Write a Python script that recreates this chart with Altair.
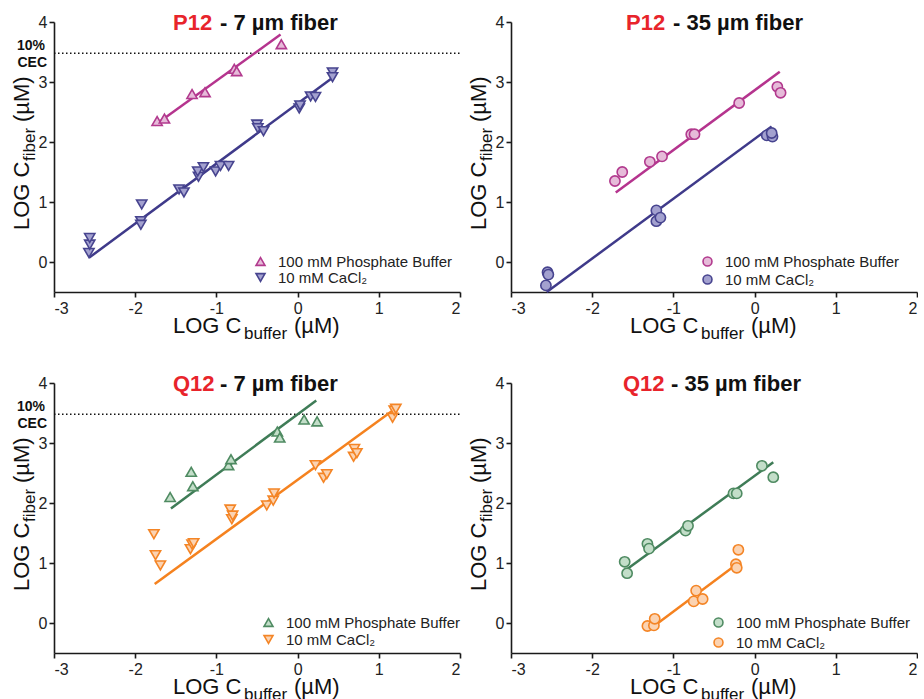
import altair as alt
import pandas as pd

FONT = "Liberation Sans"
SERIES = ["100 mM Phosphate Buffer", "10 mM CaCl₂"]
X_TICKS = [-3, -2, -1, 0, 1, 2]
Y_TICKS = [0, 1, 2, 3, 4]
X_DOMAIN = [-3, 2]
Y_DOMAIN = [-0.5, 4]
CEC_LEVEL = 3.48

# ---- P12 - 7 um fiber ----
p12_7_phos_x = [-1.73, -1.64, -1.30, -1.14, -0.78, -0.75, -0.20]
p12_7_phos_y = [2.35, 2.39, 2.80, 2.83, 3.22, 3.18, 3.63]
p12_7_ca_x = [-2.57, -2.56, -2.56, -1.93, -1.93, -1.92, -1.46, -1.40, -1.22, -1.23, -1.16,
              -1.01, -0.95, -0.85, -0.50, -0.49, -0.42, 0.02, 0.03, 0.16, 0.22, 0.43, 0.43]
p12_7_ca_y = [0.15, 0.29, 0.40, 0.68, 0.62, 0.96, 1.21, 1.16, 1.42, 1.51, 1.58,
              1.51, 1.60, 1.60, 2.29, 2.23, 2.18, 2.56, 2.61, 2.76, 2.75, 3.16, 3.08]
p12_7_phos_fit_x = [-1.76, -0.21]
p12_7_phos_fit_y = [2.28, 3.79]
p12_7_ca_fit_x = [-2.57, 0.43]
p12_7_ca_fit_y = [0.07, 3.07]

# ---- P12 - 35 um fiber ----
p12_35_phos_x = [-1.72, -1.63, -1.29, -1.14, -0.78, -0.74, -0.19, 0.28, 0.32]
p12_35_phos_y = [1.35, 1.50, 1.67, 1.76, 2.13, 2.13, 2.65, 2.92, 2.82]
p12_35_ca_x = [-2.57, -2.55, -2.54, -1.21, -1.21, -1.16, 0.15, 0.22, 0.21]
p12_35_ca_y = [-0.39, -0.17, -0.21, 0.86, 0.68, 0.74, 2.11, 2.09, 2.15]
p12_35_phos_fit_x = [-1.71, 0.31]
p12_35_phos_fit_y = [1.16, 3.17]
p12_35_ca_fit_x = [-2.56, 0.21]
p12_35_ca_fit_y = [-0.50, 2.26]

# ---- Q12 - 7 um fiber ----
q12_7_phos_x = [-1.57, -1.31, -1.29, -0.85, -0.82, -0.25, -0.22, 0.08, 0.24]
q12_7_phos_y = [2.10, 2.52, 2.28, 2.63, 2.73, 3.19, 3.09, 3.39, 3.36]
q12_7_ca_x = [-1.77, -1.75, -1.69, -1.32, -1.30, -1.28, -0.83, -0.81, -0.80, -0.38, -0.30,
              -0.29, 0.22, 0.32, 0.36, 0.69, 0.70, 0.73, 1.17, 1.19, 1.21]
q12_7_ca_y = [1.48, 1.13, 0.96, 1.23, 1.31, 1.33, 1.89, 1.73, 1.79, 1.96, 2.04,
              2.16, 2.63, 2.42, 2.48, 2.77, 2.90, 2.83, 3.42, 3.54, 3.57]
q12_7_phos_fit_x = [-1.56, 0.23]
q12_7_phos_fit_y = [1.91, 3.71]
q12_7_ca_fit_x = [-1.76, 1.21]
q12_7_ca_fit_y = [0.65, 3.58]

# ---- Q12 - 35 um fiber ----
q12_35_phos_x = [-1.60, -1.57, -1.32, -1.30, -0.85, -0.82, -0.26, -0.22, 0.09, 0.23]
q12_35_phos_y = [1.02, 0.83, 1.32, 1.24, 1.54, 1.62, 2.16, 2.16, 2.62, 2.43]
q12_35_ca_x = [-1.32, -1.24, -1.23, -0.75, -0.72, -0.64, -0.23, -0.22, -0.20]
q12_35_ca_y = [-0.05, -0.04, 0.07, 0.36, 0.54, 0.40, 0.98, 0.92, 1.22]
q12_35_phos_fit_x = [-1.56, 0.23]
q12_35_phos_fit_y = [0.91, 2.68]
q12_35_ca_fit_x = [-1.23, -0.22]
q12_35_ca_fit_y = [-0.04, 0.98]

P_FILLS = ["#E6BBD9", "#A3A1CF"]
P_STROKES = ["#B23A8E", "#47448F"]
P_LINES = ["#B5348E", "#3F3A8A"]
Q_FILLS = ["#C3DEC9", "#FBD3B2"]
Q_STROKES = ["#4F8B62", "#F48526"]
Q_LINES = ["#3F7C57", "#F5821F"]
RED = "#E8242B"

one = pd.DataFrame({"k": [0]})


def xenc(field="x"):
    return alt.X(field, type="quantitative",
                 scale=alt.Scale(domain=X_DOMAIN, nice=False, zero=False),
                 axis=alt.Axis(values=X_TICKS, title=None, labelExpr="'' + datum.value",
                               labelPadding=3))


def yenc(field="y"):
    return alt.Y(field, type="quantitative",
                 scale=alt.Scale(domain=Y_DOMAIN, nice=False, zero=False),
                 axis=alt.Axis(values=Y_TICKS, title=None, labelExpr="'' + datum.value",
                               labelPadding=2))


def txt(text, x, y, size, color="#111111", bold=False, angle=0, align="left"):
    kw = dict(text=text, font=FONT, fontSize=size, color=color, align=align,
              baseline="alphabetic", fontWeight="bold" if bold else "normal")
    if angle:
        kw["angle"] = angle
    return alt.Chart(one).mark_text(**kw).encode(x=alt.value(x), y=alt.value(y))


def make_panel(code, rest, title_x, phos_x, phos_y, ca_x, ca_y, pfx, pfy, cfx, cfy,
               shapes, fills, strokes, lines, leg_xy, row_pad, cec=False, anchor=False):
    pts = pd.DataFrame({
        "x": phos_x + ca_x,
        "y": phos_y + ca_y,
        "series": [SERIES[0]] * len(phos_x) + [SERIES[1]] * len(ca_x),
    })
    leg = alt.Legend(orient="none", legendX=leg_xy[0], legendY=leg_xy[1], title=None,
                     labelFont=FONT, labelFontSize=15, labelColor="#222222", labelLimit=400,
                     symbolSize=80, symbolStrokeWidth=1.6, padding=0,
                     rowPadding=row_pad, labelOffset=10)
    layers = []
    if anchor:
        layers.append(alt.Chart(one).mark_rect(opacity=0).encode(
            x=alt.value(-54), x2=alt.value(-53), y=alt.value(-22), y2=alt.value(-21)))
    if cec:
        rule_df = pd.DataFrame({"x": [X_DOMAIN[0]], "x2": [X_DOMAIN[1]], "y": [CEC_LEVEL]})
        layers.append(alt.Chart(rule_df).mark_rule(color="#111111", strokeWidth=1.6,
                                                   strokeDash=[1.5, 2.5]).encode(
            x=xenc("x"), x2="x2", y=yenc("y")))
        layers.append(txt("10%", -9, 28, 14, bold=True, align="right"))
        layers.append(txt("CEC", -7, 45, 14, bold=True, align="right"))
    for fx, fy, col in [(pfx, pfy, lines[0]), (cfx, cfy, lines[1])]:
        ldf = pd.DataFrame({"x": fx, "y": fy})
        layers.append(alt.Chart(ldf).mark_line(color=col, strokeWidth=2.5).encode(
            x=xenc(), y=yenc()))
    layers.append(alt.Chart(pts).mark_point(filled=True, size=105, strokeWidth=1.6,
                                            opacity=1).encode(
        x=xenc(), y=yenc(),
        shape=alt.Shape("series:N", scale=alt.Scale(domain=SERIES, range=shapes), legend=leg),
        fill=alt.Fill("series:N", scale=alt.Scale(domain=SERIES, range=fills), legend=leg),
        stroke=alt.Stroke("series:N", scale=alt.Scale(domain=SERIES, range=strokes), legend=leg),
    ))
    # panel title
    layers.append(txt(code, title_x[0], 8, 22, color=RED, bold=True))
    layers.append(txt(rest, title_x[1], 8, 22, color="#111111", bold=True))
    # x axis title
    layers.append(txt("LOG C", 119, 311, 22))
    layers.append(txt("buffer", 190, 317, 17))
    layers.append(txt("(µM)", 240, 311, 22))
    # y axis title
    layers.append(txt("LOG C", -25, 208, 22, angle=270))
    layers.append(txt("fiber", -19, 139, 17, angle=270))
    layers.append(txt("(µM)", -25, 100, 22, angle=270))
    return alt.layer(*layers).properties(width=406, height=270)


UP_DOWN = ["triangle-up", "triangle-down"]
CIRC = ["circle", "circle"]

p1 = make_panel("P12", "- 7 µm fiber", (119, 166), p12_7_phos_x, p12_7_phos_y, p12_7_ca_x,
                p12_7_ca_y, p12_7_phos_fit_x, p12_7_phos_fit_y, p12_7_ca_fit_x, p12_7_ca_fit_y,
                UP_DOWN, P_FILLS, P_STROKES, P_LINES, (199, 232), 0, cec=True, anchor=True)
p2 = make_panel("P12", "- 35 µm fiber", (115, 162), p12_35_phos_x, p12_35_phos_y, p12_35_ca_x,
                p12_35_ca_y, p12_35_phos_fit_x, p12_35_phos_fit_y, p12_35_ca_fit_x,
                p12_35_ca_fit_y, CIRC, P_FILLS, P_STROKES, P_LINES, (189, 232), 1)
p3 = make_panel("Q12", "- 7 µm fiber", (119, 166), q12_7_phos_x, q12_7_phos_y, q12_7_ca_x,
                q12_7_ca_y, q12_7_phos_fit_x, q12_7_phos_fit_y, q12_7_ca_fit_x, q12_7_ca_fit_y,
                UP_DOWN, Q_FILLS, Q_STROKES, Q_LINES, (207, 232), 1, cec=True)
p4 = make_panel("Q12", "- 35 µm fiber", (112, 160), q12_35_phos_x, q12_35_phos_y, q12_35_ca_x,
                q12_35_ca_y, q12_35_phos_fit_x, q12_35_phos_fit_y, q12_35_ca_fit_x,
                q12_35_ca_fit_y, CIRC, Q_FILLS, Q_STROKES, Q_LINES, (200, 232), 3)

chart = alt.concat(p1, p2, p3, p4, columns=2, spacing={"row": 91, "column": 51},
                   bounds="flush").resolve_scale(
    shape="independent", fill="independent", stroke="independent").resolve_legend(
    shape="independent", fill="independent", stroke="independent").properties(
    padding=0).configure_view(stroke=None).configure_axis(
    grid=False, domainColor="#1a1a1a", domainWidth=1.6, tickColor="#1a1a1a", tickWidth=1.6,
    tickSize=5, labelFont=FONT, labelFontSize=16, labelColor="#222222")

chart.save("out.html", embed_options={"renderer": "svg", "actions": False})
